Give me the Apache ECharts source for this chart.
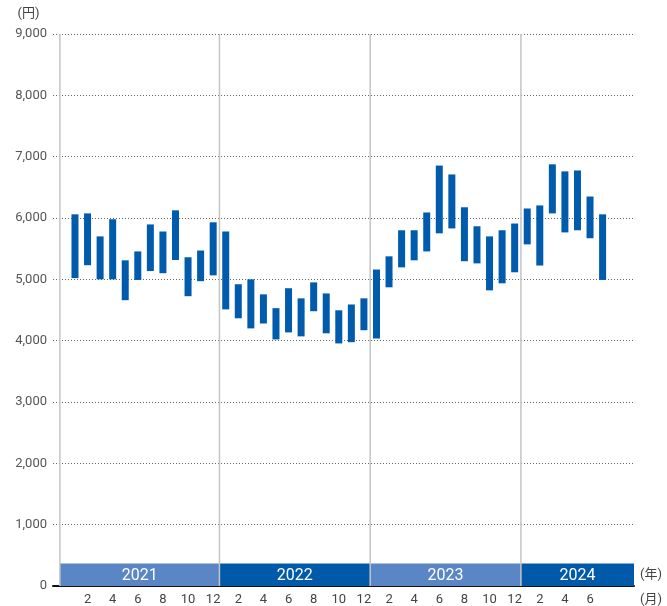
<!DOCTYPE html>
<html>
<head>
<meta charset="utf-8">
<script src="https://cdn.jsdelivr.net/npm/echarts@6/dist/echarts.min.js"></script>
<style>
html, body { margin: 0; padding: 0; background: #fff; }
#main { width: 667px; height: 606px; }
</style>
</head>
<body>
<div id="main"></div>
<script>
// 月別の株価レンジ（安値・高値, 円）2021年1月〜2024年7月
var months = [
  '2021/1','2021/2','2021/3','2021/4','2021/5','2021/6','2021/7','2021/8','2021/9','2021/10','2021/11','2021/12',
  '2022/1','2022/2','2022/3','2022/4','2022/5','2022/6','2022/7','2022/8','2022/9','2022/10','2022/11','2022/12',
  '2023/1','2023/2','2023/3','2023/4','2023/5','2023/6','2023/7','2023/8','2023/9','2023/10','2023/11','2023/12',
  '2024/1','2024/2','2024/3','2024/4','2024/5','2024/6','2024/7'
];
var lows = [
  5020, 5230, 5000, 5000, 4660, 4990, 5135, 5100, 5315, 4725, 4970, 5065,
  4510, 4365, 4200, 4280, 4020, 4135, 4070, 4480, 4120, 3955, 3975, 4170,
  4035, 4870, 5195, 5310, 5455, 5750, 5830, 5295, 5260, 4820, 4935, 5115,
  5570, 5225, 6075, 5765, 5800, 5670, 4990
];
var highs = [
  6060, 6075, 5700, 5980, 5310, 5455, 5895, 5780, 6125, 5360, 5470, 5930,
  5780, 4920, 5000, 4755, 4530, 4855, 4690, 4950, 4770, 4495, 4590, 4690,
  5160, 5375, 5800, 5800, 6090, 6855, 6710, 6175, 5865, 5700, 5800, 5910,
  6155, 6205, 6875, 6760, 6775, 6350, 6060
];
var years = ['2021', '2022', '2023', '2024'];
var yearFrom = [-0.2, 12.5, 24.5, 36.5]; // 年の区切り（月の通し番号）
var yearTo = [12.5, 24.5, 36.5, 45.5];
var monthTicks = [2, 4, 6, 8, 10, 12, 14, 16, 18, 20, 22, 24, 26, 28, 30, 32, 34, 36, 38, 40, 42];

var FONT = 'Roboto, "Noto Sans CJK JP", sans-serif';
var myChart = echarts.init(document.getElementById('main'));

var barData = months.map(function (m, i) { return [i + 1, lows[i], highs[i]]; });
var bandData = years.map(function (y, i) { return [yearFrom[i], yearTo[i]]; });
var dividerData = yearFrom.map(function (x) { return [x]; });

function renderBar(params, api) {
  var x = api.value(0);
  var top = api.coord([x, api.value(2)]);
  var bot = api.coord([x, api.value(1)]);
  return {
    type: 'rect',
    shape: { x: top[0] - 3.5, y: top[1], width: 7, height: bot[1] - top[1] },
    style: { fill: '#005bac' }
  };
}

function renderBand(params, api) {
  var a = api.coord([api.value(0), 0]);
  var b = api.coord([api.value(1), 0]);
  var h = 22.5;
  return {
    type: 'group',
    children: [
      {
        type: 'rect',
        shape: { x: a[0], y: a[1] - h, width: b[0] - a[0], height: h },
        style: { fill: params.dataIndex % 2 ? '#0059a9' : '#5a86c5' }
      },
      {
        type: 'text',
        style: {
          text: years[params.dataIndex],
          x: (a[0] + b[0]) / 2, y: a[1] - h / 2 + 1,
          align: 'center', verticalAlign: 'middle',
          fill: '#fff', fontSize: 16, fontFamily: FONT
        }
      }
    ]
  };
}

function renderDivider(params, api) {
  var x = api.value(0);
  var top = api.coord([x, 9000]);
  var bot = api.coord([x, 0]);
  return {
    type: 'line',
    shape: { x1: top[0], y1: top[1], x2: bot[0], y2: bot[1] },
    style: { stroke: '#c4c4c4', lineWidth: 1.5 }
  };
}

myChart.setOption({
  animation: false,
  backgroundColor: '#fff',
  grid: { left: 53, right: 33, top: 34, bottom: 20 },
  xAxis: {
    type: 'value',
    min: -0.75,
    max: 45.5,
    name: '(月)',
    nameLocation: 'end',
    nameGap: 6,
    nameTextStyle: { color: '#444', fontSize: 13, fontFamily: FONT, verticalAlign: 'top', padding: [7, 0, 0, 0] },
    axisLine: { show: true, onZero: false, lineStyle: { color: '#111', width: 2 } },
    axisTick: { show: false },
    splitLine: { show: false },
    axisLabel: {
      customValues: monthTicks,
      color: '#444',
      fontSize: 13,
      fontFamily: FONT,
      margin: 7,
      formatter: function (v) { return String((v - 1) % 12 + 1); }
    }
  },
  yAxis: {
    type: 'value',
    min: 0,
    max: 9000,
    interval: 1000,
    name: '(円)',
    nameLocation: 'end',
    nameGap: 14,
    nameTextStyle: { color: '#444', fontSize: 13, fontFamily: FONT, align: 'right', padding: [0, 23, 0, 0] },
    axisLine: { show: false },
    axisTick: { show: false },
    axisLabel: {
      color: '#555',
      fontSize: 13,
      fontFamily: FONT,
      margin: 6,
      formatter: function (v) { return echarts.format.addCommas(v); }
    },
    splitLine: { show: true, lineStyle: { color: '#666', width: 1, type: [1, 2] } }
  },
  graphic: [{
    type: 'text',
    left: 640,
    top: 568,
    style: { text: '(年)', fill: '#444', fontSize: 13, fontFamily: FONT }
  }],
  series: [
    { type: 'custom', name: 'band', renderItem: renderBand, data: bandData, encode: { x: [0, 1] }, z: 2, silent: true },
    { type: 'custom', name: 'divider', renderItem: renderDivider, data: dividerData, encode: { x: 0 }, z: 3, silent: true },
    { type: 'custom', name: 'range', renderItem: renderBar, data: barData, encode: { x: 0, y: [1, 2] }, z: 4 }
  ]
});
</script>
</body>
</html>
